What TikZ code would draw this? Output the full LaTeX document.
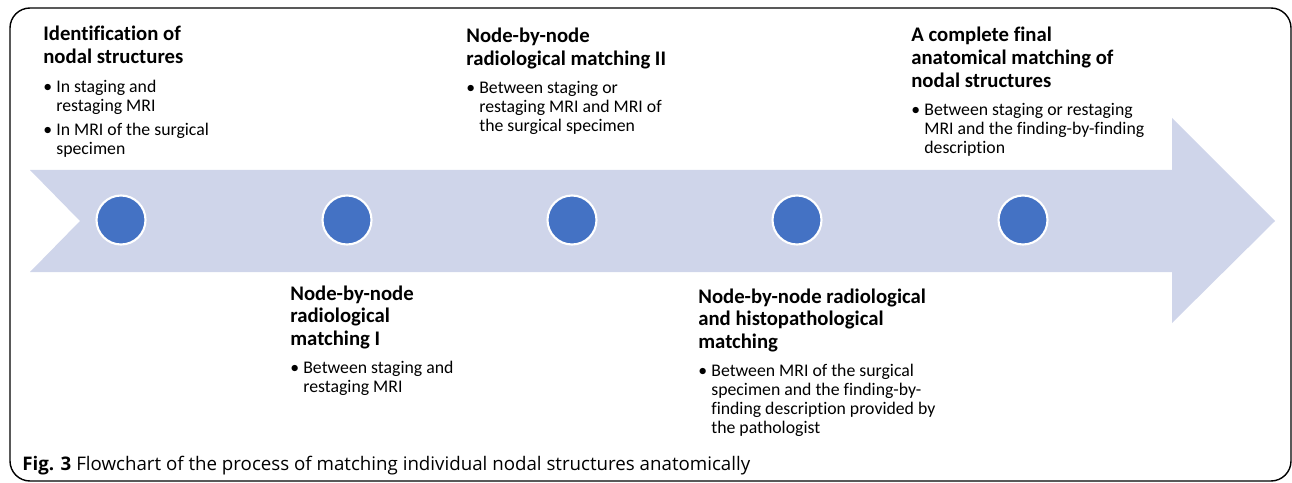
\documentclass[tikz,border=0pt]{standalone}
\usepackage{fontspec}
\setmainfont{Carlito}[Ligatures=CommonOff]
\newfontfamily\capfont{Open Sans}
\usetikzlibrary{positioning}
\definecolor{arrowfill}{RGB}{207,213,234}
\definecolor{dotblue}{RGB}{68,114,196}
\newcommand\headsize{\fontsize{11.8pt}{13.04pt}\selectfont\bfseries}
\newcommand\bodysize{\fontsize{10.1pt}{10.9pt}\selectfont}
\newcommand\hd[1]{\begin{tabular}[t]{@{}l@{}}#1\end{tabular}}
\newcommand\bitem[1]{\makebox[0.26cm][l]{\textbullet}\begin{tabular}[t]{@{}l@{}}#1\end{tabular}}

\begin{document}
\begin{tikzpicture}[x=0.02cm,y=-0.02cm,
    head/.style={font=\headsize,inner sep=0pt,anchor=base west},
    bul/.style={font=\bodysize,inner sep=0pt},
    dot/.style={circle,fill=dotblue,draw=white,line width=1.2pt,minimum size=0.98cm,inner sep=0pt}
  ]
  \useasboundingbox (0,0) rectangle (1292,483);
  \draw[line width=0.8pt,rounded corners=0.4cm] (10,8) rectangle (1291,481);
  % big arrow
  \fill[arrowfill] (30,170) -- (1172,170) -- (1172,118) -- (1275,221)
    -- (1172,323) -- (1172,272) -- (30,272) -- (80,221) -- cycle;
  \foreach \i/\x in {1/121,2/347,3/572,4/797,5/1023}
    \node[dot] (c\i) at (\x,220) {};
  % steps above the arrow
  \node[head] (h1) at (43,41) {\hd{Identification of\\nodal structures}};
  \node[bul,below=0.15cm of h1.south west,anchor=north west] (b1a) {\bitem{In staging and\\restaging MRI}};
  \node[bul,below=0.08cm of b1a.south west,anchor=north west] (b1b) {\bitem{In MRI of the surgical\\specimen}};
  \node[head] (h3) at (466,43) {\hd{Node-by-node\\radiological matching II}};
  \node[bul,below=0.13cm of h3.south west,anchor=north west] (b3a) {\bitem{Between staging or\\restaging MRI and MRI of\\the surgical specimen}};
  \node[head] (h5) at (911,42) {\hd{A complete final\\anatomical matching of\\nodal structures}};
  \node[bul,below=0.13cm of h5.south west,anchor=north west] (b5a) {\bitem{Between staging or restaging\\MRI and the finding-by-finding\\description}};
  % steps below the arrow
  \node[head] (h2) at (290,300) {\hd{Node-by-node\\radiological\\matching I}};
  \node[bul,below=0.13cm of h2.south west,anchor=north west] (b2a) {\bitem{Between staging and\\restaging MRI}};
  \node[head] (h4) at (698,303) {\hd{Node-by-node radiological\\and histopathological\\matching}};
  \node[bul,below=0.13cm of h4.south west,anchor=north west] (b4a) {\bitem{Between MRI of the surgical\\specimen and the finding-by-\\finding description provided by\\the pathologist}};
  % caption
  \node[font=\capfont\fontsize{10.65pt}{12pt}\selectfont,inner sep=0pt,anchor=base west] (cap) at (22,470)
    {\textbf{Fig. 3} Flowchart of the process of matching individual nodal structures anatomically};
\end{tikzpicture}
\end{document}
